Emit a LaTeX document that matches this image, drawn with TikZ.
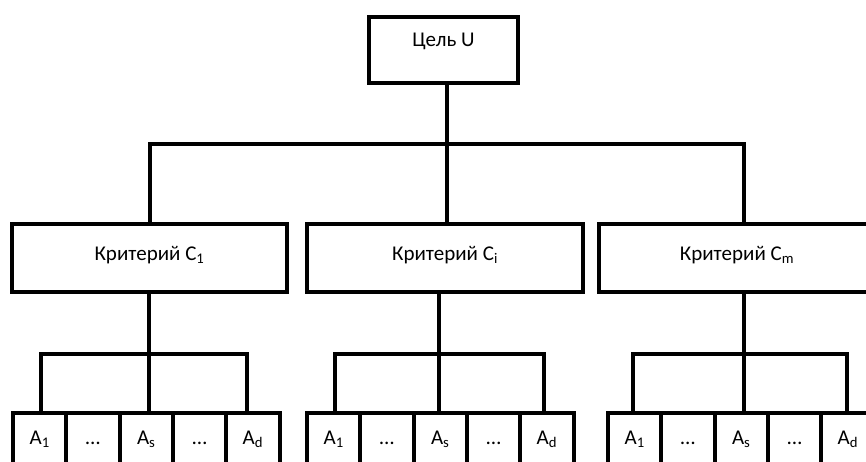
\documentclass[tikz,border=0pt]{standalone}
\usepackage{fontspec}
\setmainfont{Carlito}
\begin{document}
\begin{tikzpicture}[x=1pt,y=-1pt,
  box/.style={draw, line width=4pt, rectangle, inner sep=0pt, line join=miter, anchor=base, text=black, font=\fontsize{21}{25}\selectfont},
  topbox/.style={box, minimum width=149pt, text height=29.5pt, text depth=36.5pt},
  critbox/.style={box, minimum width=275.5pt, text height=36pt, text depth=31.5pt},
  altbox/.style={box, minimum width=53.3pt, text height=31pt, text depth=30pt},
  conn/.style={line width=4pt, line join=miter}]
\useasboundingbox (0,0) rectangle (866,461);
\clip (0,0) rectangle (866,461);
\fill[white] (0,0) rectangle (866,461);
% top
\node[topbox] (top) at (443.5,46.5) {Цель U};
% criteria
\node[critbox] (c1) at (149.5,260) {Критерий C\textsubscript{1}};
\node[critbox] (c2) at (445,260) {Критерий C\textsubscript{i}};
\node[critbox] (c3) at (737,260) {Критерий C\textsubscript{m}};
% alternatives group 1
\node[altbox] (a11) at (39.65,444) {A\textsubscript{1}};
\node[altbox] (a12) at (92.95,444) {…};
\node[altbox] (a13) at (146.25,444) {A\textsubscript{s}};
\node[altbox] (a14) at (199.55,444) {…};
\node[altbox] (a15) at (252.85,444) {A\textsubscript{d}};
% group 2
\node[altbox] (a21) at (333.65,444) {A\textsubscript{1}};
\node[altbox] (a22) at (386.95,444) {…};
\node[altbox] (a23) at (440.25,444) {A\textsubscript{s}};
\node[altbox] (a24) at (493.55,444) {…};
\node[altbox] (a25) at (546.85,444) {A\textsubscript{d}};
% group 3
\node[altbox] (a31) at (634.65,444) {A\textsubscript{1}};
\node[altbox] (a32) at (687.95,444) {…};
\node[altbox] (a33) at (741.25,444) {A\textsubscript{s}};
\node[altbox] (a34) at (794.55,444) {…};
\node[altbox] (a35) at (847.85,444) {A\textsubscript{d}};
% top bus
\coordinate (t0) at (447,144);
\coordinate (b1) at (150,144);
\coordinate (b3) at (744,144);
\draw[conn] (t0 |- top.south) -- (t0 |- c2.north);
\draw[conn] (b1 |- c1.north) -- (b1) -- (b3) -- (b3 |- c3.north);
% group buses
\coordinate (g1l) at (41,354);
\coordinate (g1m) at (149,354);
\coordinate (g1r) at (247,354);
\coordinate (g2l) at (335,354);
\coordinate (g2m) at (439,354);
\coordinate (g2r) at (543.5,354);
\coordinate (g3l) at (633,354);
\coordinate (g3m) at (744,354);
\coordinate (g3r) at (847,354);
\draw[conn] (g1m |- c1.south) -- (g1m) -- (g1m |- a13.north);
\draw[conn] (g1l |- a11.north) -- (g1l) -- (g1r) -- (g1r |- a15.north);
\draw[conn] (g2m |- c2.south) -- (g2m) -- (g2m |- a23.north);
\draw[conn] (g2l |- a21.north) -- (g2l) -- (g2r) -- (g2r |- a25.north);
\draw[conn] (g3m |- c3.south) -- (g3m) -- (g3m |- a33.north);
\draw[conn] (g3l |- a31.north) -- (g3l) -- (g3r) -- (g3r |- a35.north);
\end{tikzpicture}
\end{document}
